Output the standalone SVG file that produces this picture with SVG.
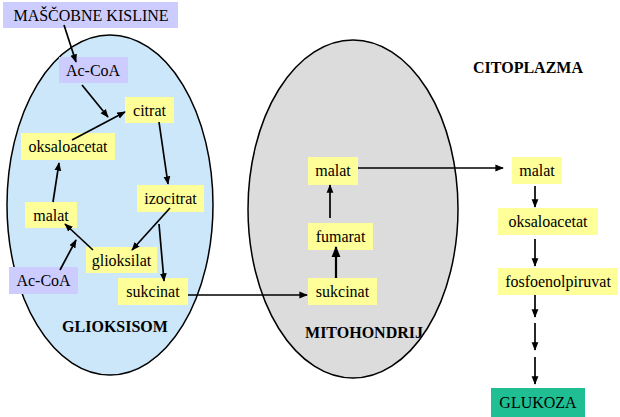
<svg xmlns="http://www.w3.org/2000/svg" width="620" height="417" viewBox="0 0 620 417">
<style>
.y{fill:#ffff99}
.v{fill:#ccccff}
.t{font-family:"Liberation Serif","Times New Roman",serif;font-size:16px;fill:#000;text-anchor:middle}
.b{font-family:"Liberation Serif","Times New Roman",serif;font-size:16px;font-weight:bold;fill:#000;text-anchor:middle}
.c line{stroke:#000;stroke-width:1.7;marker-end:url(#ah)}
</style>
<defs>
<marker id="ah" viewBox="0 0 10 10" refX="9" refY="5" markerWidth="5" markerHeight="5" orient="auto" markerUnits="strokeWidth">
<path d="M0,1 L10,5 L0,9 z" fill="#000"/>
</marker>
</defs>
<rect width="620" height="417" fill="#fff"/>
<g id="glioksisom">
<ellipse cx="110" cy="205" rx="103" ry="170" fill="#cce6fa" stroke="#000" stroke-width="1.5"/>
<text class="b" x="115" y="332">GLIOKSISOM</text>
</g>
<g id="mitohondrij">
<ellipse cx="353" cy="209" rx="105" ry="169" fill="#dcdcdc" stroke="#000" stroke-width="1.5"/>
<text class="b" x="364" y="338">MITOHONDRIJ</text>
</g>
<g id="citoplazma"><text class="b" x="528" y="73">CITOPLAZMA</text></g>
<g id="mascobne"><rect class="v" x="3" y="2" width="175" height="26"/><text class="t" x="91" y="21">MAŠČOBNE KISLINE</text></g>
<g id="acoa1"><rect class="v" x="59" y="57" width="69" height="26"/><text class="t" x="93" y="76">Ac-CoA</text></g>
<g id="citrat"><rect class="y" x="125" y="97" width="49" height="26"/><text class="t" x="149.5" y="116">citrat</text></g>
<g id="oksalo1"><rect class="y" x="21" y="133" width="94" height="27"/><text class="t" x="68" y="152">oksaloacetat</text></g>
<g id="izocitrat"><rect class="y" x="137" y="185" width="67" height="27"/><text class="t" x="170.5" y="204">izocitrat</text></g>
<g id="malat1"><rect class="y" x="25" y="202" width="52" height="26"/><text class="t" x="51" y="221">malat</text></g>
<g id="glioksilat"><rect class="y" x="86" y="247" width="71" height="26"/><text class="t" x="121.5" y="266">glioksilat</text></g>
<g id="acoa2"><rect class="v" x="9" y="267" width="69" height="27"/><text class="t" x="43.5" y="286">Ac-CoA</text></g>
<g id="sukcinat1"><rect class="y" x="118" y="278" width="70" height="27"/><text class="t" x="153" y="297">sukcinat</text></g>
<g id="malat2"><rect class="y" x="308" y="157" width="50" height="28"/><text class="t" x="333" y="176">malat</text></g>
<g id="fumarat"><rect class="y" x="308" y="223" width="65" height="27"/><text class="t" x="340.5" y="242">fumarat</text></g>
<g id="sukcinat2"><rect class="y" x="308" y="278" width="69" height="27"/><text class="t" x="342.5" y="297">sukcinat</text></g>
<g id="malat3"><rect class="y" x="512" y="157" width="50" height="27"/><text class="t" x="537" y="176">malat</text></g>
<g id="oksalo2"><rect class="y" x="498" y="208" width="100" height="27"/><text class="t" x="548" y="227">oksaloacetat</text></g>
<g id="fosfo"><rect class="y" x="498" y="268" width="120" height="27"/><text class="t" x="558" y="287">fosfoenolpiruvat</text></g>
<g id="glukoza"><rect x="491" y="388" width="94" height="29" fill="#1fbf93"/><text class="t" x="538" y="408">GLUKOZA</text></g>
<g class="c" id="connectors">
<line x1="64" y1="25" x2="76" y2="62"/>
<line x1="82" y1="85" x2="108" y2="117"/>
<line x1="72" y1="140" x2="125" y2="112"/>
<line x1="159" y1="122" x2="168" y2="184"/>
<line x1="53" y1="202" x2="59" y2="163"/>
<line x1="170" y1="208" x2="132" y2="250"/>
<line x1="159" y1="224" x2="164" y2="281"/>
<line x1="93" y1="250" x2="65" y2="224"/>
<line x1="60" y1="270" x2="76" y2="240"/>
<line x1="188" y1="295" x2="307" y2="295"/>
<line x1="336" y1="278" x2="336" y2="247" style="stroke-width:2.2"/>
<line x1="330" y1="218" x2="330" y2="185"/>
<line x1="358" y1="168" x2="503" y2="168"/>
<line x1="535" y1="186" x2="535" y2="207"/>
<line x1="535" y1="239" x2="535" y2="266"/>
<line x1="535" y1="295" x2="535" y2="317"/>
<line x1="535" y1="323" x2="535" y2="350"/>
<line x1="535" y1="357" x2="535" y2="384"/>
</g>
</svg>
